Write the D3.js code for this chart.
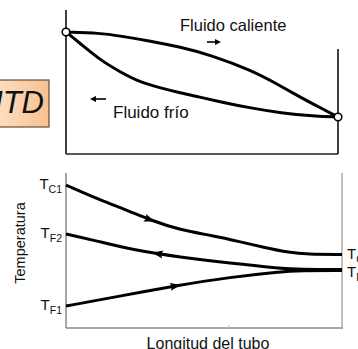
<!DOCTYPE html>
<html>
<head>
<meta charset="utf-8">
<script src="https://cdn.jsdelivr.net/npm/d3@7"></script>
<style>
  html, body { margin: 0; padding: 0; background: #fff; }
  svg { display: block; }
  text { font-family: "Liberation Sans", Arial, sans-serif; fill: #111; }
</style>
</head>
<body>
<svg id="chart" width="358" height="349"></svg>
<script>
// Upper sketch: temperature profiles of both fluids along the tube
const topPos  = [0, 0.125, 0.2, 0.31, 0.42, 0.53, 0.68, 0.79, 0.86, 0.93, 1];
const topHot  = [84.7, 84.0, 81.9, 78.5, 74.3, 68.8, 58.3, 47.2, 39.6, 32.6, 25.7];
const topColdPos = [0, 0.05, 0.125, 0.2, 0.27, 0.35, 0.42, 0.49, 0.57, 0.68, 0.79, 0.91, 1];
const topCold    = [84.7, 77.1, 65.3, 56.9, 50.0, 45.8, 42.4, 39.6, 36.1, 31.9, 28.5, 26.4, 25.7];

// Lower diagram: hot stream, cold outlet branch, cold inlet branch
const hotPos  = [0, 0.123, 0.221, 0.304, 0.413, 0.533, 0.630, 0.714, 0.812, 0.873, 1];
const hotTemp = [92.2, 82.5, 75.9, 69.5, 63.0, 59.3, 55.4, 51.8, 48.2, 47.2, 47.1];
const coldOutPos  = [0, 0.123, 0.243, 0.413, 0.594, 0.775, 0.848, 1];
const coldOutTemp = [60.4, 55.4, 50.0, 45.3, 41.4, 38.1, 37.3, 37.3];
const coldInPos  = [0, 0.196, 0.413, 0.594, 0.775, 0.848, 1];
const coldInTemp = [13.6, 20.1, 27.3, 32.3, 35.9, 36.7, 36.7];

const leftLabels  = [["T", "C1", 92.2], ["T", "F2", 60.4], ["T", "F1", 13.6]];
const rightLabels = [["T", "C2", 47.1], ["T", "F2", 36.0]];

const svg = d3.select("#chart");

// ---------- upper panel ----------
const xTop = d3.scaleLinear().domain([0, 1]).range([66, 338]);
const yTop = d3.scaleLinear().domain([0, 100]).range([154, 10]);

const gTop = svg.append("g");
gTop.append("line").attr("x1", 66).attr("x2", 66).attr("y1", yTop(100)).attr("y2", yTop(0))
  .attr("stroke", "#111").attr("stroke-width", 1.6);
gTop.append("line").attr("x1", 66).attr("x2", xTop(1)).attr("y1", yTop(0)).attr("y2", yTop(0))
  .attr("stroke", "#222").attr("stroke-width", 1.6);
gTop.append("line").attr("x1", xTop(1)).attr("x2", xTop(1)).attr("y1", yTop(73)).attr("y2", yTop(0))
  .attr("stroke", "#111").attr("stroke-width", 1.6);

const lineTop = (pos) => d3.line().x((d, i) => xTop(pos[i])).y(d => yTop(d)).curve(d3.curveBasis);
gTop.append("path").attr("d", lineTop(topPos)(topHot))
  .attr("fill", "none").attr("stroke", "#000").attr("stroke-width", 3);
gTop.append("path").attr("d", lineTop(topColdPos)(topCold))
  .attr("fill", "none").attr("stroke", "#000").attr("stroke-width", 3);

[[0, topHot[0]], [1, topHot[topHot.length - 1]]].forEach(([p, v]) => {
  gTop.append("circle").attr("cx", xTop(p)).attr("cy", yTop(v)).attr("r", 3.8)
    .attr("fill", "#fff").attr("stroke", "#000").attr("stroke-width", 1.6);
});

gTop.append("text").attr("x", 180).attr("y", 31).attr("font-size", 16.5).text("Fluido caliente");
gTop.append("text").attr("x", 113).attr("y", 118).attr("font-size", 17).text("Fluido frío");

// small direction arrows next to the labels
function flowArrow(g, x1, x2, y) {
  const dir = Math.sign(x2 - x1);
  g.append("line").attr("x1", x1).attr("x2", x2 - dir * 4).attr("y1", y).attr("y2", y)
    .attr("stroke", "#000").attr("stroke-width", 1.6);
  g.append("path")
    .attr("d", `M${x2},${y} L${x2 - dir * 6},${y - 3} L${x2 - dir * 6},${y + 3} Z`)
    .attr("fill", "#000");
}
flowArrow(gTop, 207, 221, 42);
flowArrow(gTop, 106, 90, 99);

// ---------- side tag ----------
const defs = svg.append("defs");
const grad = defs.append("linearGradient").attr("id", "tagFill")
  .attr("x1", "0%").attr("x2", "100%").attr("y1", "0%").attr("y2", "0%");
grad.append("stop").attr("offset", "0%").attr("stop-color", "#fde0c4");
grad.append("stop").attr("offset", "100%").attr("stop-color", "#f8c190");
svg.append("rect").attr("x", -6).attr("y", 80).attr("width", 55).attr("height", 47)
  .attr("fill", "url(#tagFill)").attr("stroke", "#6b4a2a").attr("stroke-width", 1.2);
svg.append("text").attr("x", 44).attr("y", 113).attr("text-anchor", "end")
  .attr("font-size", 31).attr("font-style", "italic").text("LMTD");

// ---------- lower panel ----------
const xB = d3.scaleLinear().domain([0, 1]).range([66, 342]);
const yB = d3.scaleLinear().domain([0, 100]).range([327, 173]);

const gB = svg.append("g");
const frame = "#8a8a8a";
gB.append("line").attr("x1", 66).attr("x2", 66).attr("y1", 173).attr("y2", 328)
  .attr("stroke", frame).attr("stroke-width", 1.5);
gB.append("line").attr("x1", 66).attr("x2", 343).attr("y1", 328).attr("y2", 328)
  .attr("stroke", frame).attr("stroke-width", 1.5);
gB.append("line").attr("x1", 342).attr("x2", 342).attr("y1", 173).attr("y2", 328)
  .attr("stroke", "#a0a0a0").attr("stroke-width", 1.3);
gB.append("line").attr("x1", xB(0.59)).attr("x2", xB(0.59)).attr("y1", 325).attr("y2", 328)
  .attr("stroke", "#bbb").attr("stroke-width", 1);

const lineB = (pos) => d3.line().x((d, i) => xB(pos[i])).y(d => yB(d)).curve(d3.curveBasis);
const pHot = gB.append("path").attr("d", lineB(hotPos)(hotTemp))
  .attr("fill", "none").attr("stroke", "#000").attr("stroke-width", 3);
const pOut = gB.append("path").attr("d", lineB(coldOutPos)(coldOutTemp))
  .attr("fill", "none").attr("stroke", "#000").attr("stroke-width", 3);
const pIn = gB.append("path").attr("d", lineB(coldInPos)(coldInTemp))
  .attr("fill", "none").attr("stroke", "#000").attr("stroke-width", 3);

// arrowhead placed on a path where it crosses a given x, pointing along or against the path
function arrowOnPath(path, xTarget, reverse) {
  const node = path.node();
  const total = node.getTotalLength();
  let lo = 0, hi = total;
  for (let k = 0; k < 40; k++) {
    const mid = (lo + hi) / 2;
    if (node.getPointAtLength(mid).x < xTarget) lo = mid; else hi = mid;
  }
  const L = (lo + hi) / 2;
  const p = node.getPointAtLength(L);
  const a = node.getPointAtLength(Math.max(0, L - 2));
  const b = node.getPointAtLength(Math.min(total, L + 2));
  let ang = Math.atan2(b.y - a.y, b.x - a.x) * 180 / Math.PI;
  if (reverse) ang += 180;
  gB.append("path").attr("d", "M0,0 L-11,-4 L-9,0 L-11,4 Z")
    .attr("transform", `translate(${p.x},${p.y}) rotate(${ang})`)
    .attr("fill", "#000");
}
arrowOnPath(pHot, 155, false);
arrowOnPath(pOut, 152, true);
arrowOnPath(pIn, 181, false);

// temperature tags at both ends
function tempTag(x, y, main, sub, anchorEnd) {
  const t = gB.append("text").attr("x", x).attr("y", y).attr("font-size", 15)
    .attr("text-anchor", anchorEnd ? "end" : "start");
  t.append("tspan").text(main);
  t.append("tspan").attr("font-size", 10.5).attr("dy", 4).text(sub);
}
leftLabels.forEach(([m, s, v]) => tempTag(62, yB(v) + 4, m, s, true));
rightLabels.forEach(([m, s, v]) => tempTag(347, yB(v) + 5, m, s, false));

gB.append("text").attr("transform", "translate(25,243) rotate(-90)")
  .attr("text-anchor", "middle").attr("font-size", 14.5).text("Temperatura");
gB.append("text").attr("x", 208).attr("y", 349).attr("text-anchor", "middle")
  .attr("font-size", 16).text("Longitud del tubo");
</script>
</body>
</html>
